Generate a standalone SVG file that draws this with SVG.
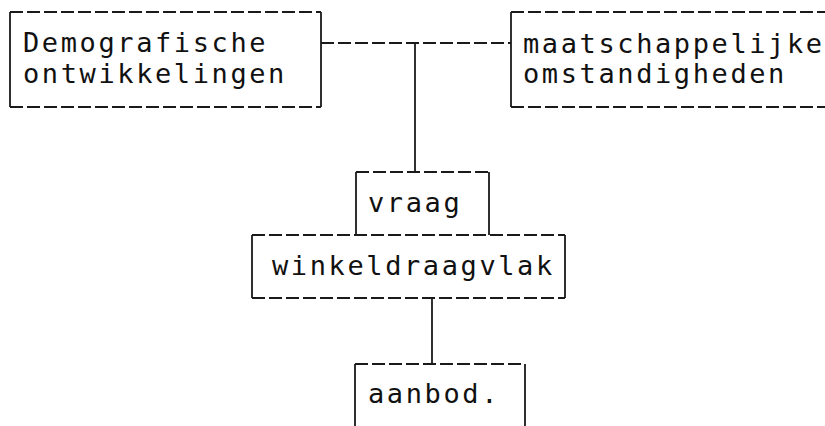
<svg xmlns="http://www.w3.org/2000/svg" width="825" height="426" viewBox="0 0 825 426">
<style>
.dash{stroke:#1a1a1a;stroke-width:1.8;stroke-dasharray:13 4;fill:none}
.solid{stroke:#1a1a1a;stroke-width:1.8;fill:none}
.t{font-family:"DejaVu Sans Mono","Liberation Mono",monospace;font-size:27px;letter-spacing:2.6px;fill:#111}
</style>
<rect width="825" height="426" fill="#fff"/>
<g id="connectors">
<path class="dash" d="M321 43H511"/>
<path class="solid" d="M415 43V172"/>
<path class="solid" d="M432 298V364"/>
</g>
<g id="demografische">
<path class="dash" d="M10 12H321M10 107H321"/>
<path class="solid" d="M10 12V107M321 12V107"/>
<text class="t" x="23" y="52">Demografische</text>
<text class="t" x="23" y="83">ontwikkelingen</text>
</g>
<g id="maatschappelijke">
<path class="dash" d="M511 12H825M511 107H825"/>
<path class="solid" d="M511 12V107"/>
<text class="t" x="523" y="53">maatschappelijke</text>
<text class="t" x="523" y="83">omstandigheden</text>
</g>
<g id="vraag">
<path class="dash" d="M356 172H489"/>
<path class="solid" d="M356 172V235M489 172V235"/>
<text class="t" x="368" y="212">vraag</text>
</g>
<g id="winkeldraagvlak">
<path class="dash" d="M252 235H565M252 298H565"/>
<path class="solid" d="M252 235V298M565 235V298"/>
<text class="t" x="272" y="275">winkeldraagvlak</text>
</g>
<g id="aanbod">
<path class="dash" d="M355 364H525"/>
<path class="solid" d="M355 364V426M525 364V426"/>
<text class="t" x="368" y="403">aanbod.</text>
</g>
</svg>
